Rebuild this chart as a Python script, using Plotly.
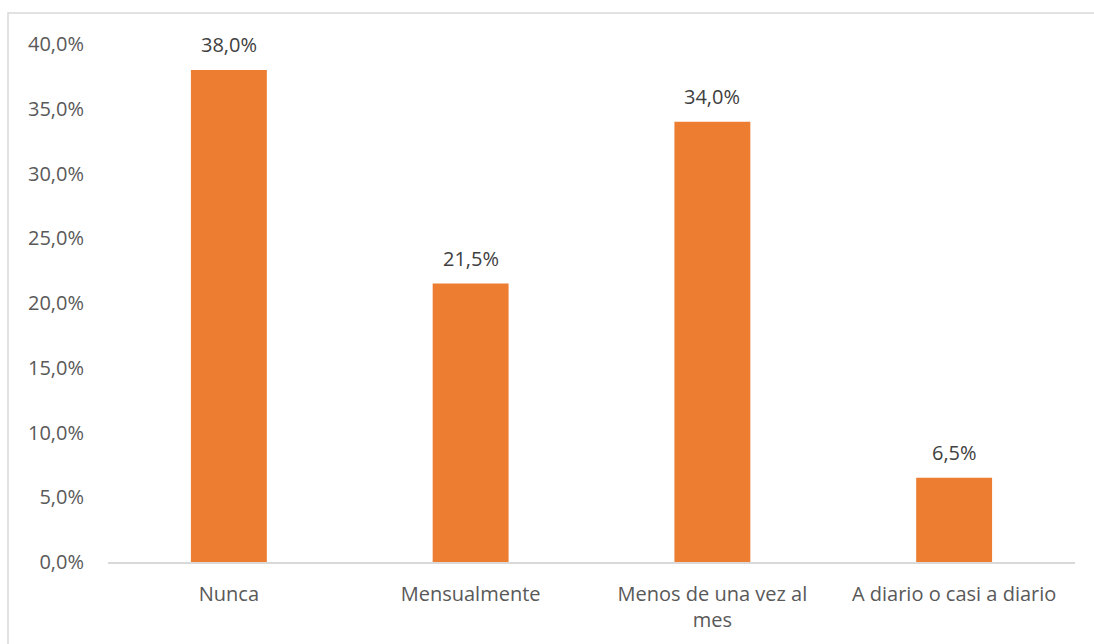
import plotly.graph_objects as go

categories = ["Nunca", "Mensualmente", "Menos de una vez al<br>mes", "A diario o casi a diario"]
values = [38.0, 21.5, 34.0, 6.5]
tick_vals = [0, 5, 10, 15, 20, 25, 30, 35, 40]

FONT = "Open Sans"
GRAY = "#595959"
FS = 20

fig = go.Figure()
fig.add_trace(go.Bar(
    x=categories, y=values,
    marker=dict(color="#ED7D31", line=dict(width=0)),
    hoverinfo="skip",
))

for c, v in zip(categories, values):
    fig.add_annotation(
        x=c, y=v, xref="x", yref="y",
        text=f"{v:.1f}%".replace(".", ","),
        showarrow=False, yanchor="bottom", yshift=10,
        font=dict(family=FONT, size=FS, color="#404040"),
    )

L, R, T, B = 108, 19, 44, 82
W, H = 1094, 644
pw, ph = W - L - R, H - T - B
x0 = (8 - L) / pw
x1 = (W + 5 - L) / pw
y1 = (H - B - 13) / ph
y0 = (H - B - (H + 5)) / ph
fig.add_shape(type="rect", xref="paper", yref="paper", x0=x0, x1=x1, y0=y0, y1=y1,
              line=dict(color="#D9D9D9", width=1.5), fillcolor="rgba(0,0,0,0)", layer="below")

fig.update_layout(
    width=W, height=H,
    margin=dict(l=L, r=R, t=T, b=B),
    paper_bgcolor="white", plot_bgcolor="white",
    bargap=0.686,
    showlegend=False,
    separators=",.",
    font=dict(family=FONT, size=FS, color=GRAY),
    xaxis=dict(
        showgrid=False, zeroline=False,
        showline=True, linecolor="#D9D9D9", linewidth=1.5,
        ticks="", tickfont=dict(family=FONT, size=FS, color=GRAY),
        ticklabelstandoff=13,
    ),
    yaxis=dict(
        range=[0, 40], tickvals=tick_vals,
        ticktext=[f"{v:.1f}%".replace(".", ",") for v in tick_vals],
        showgrid=False, zeroline=False, showline=False,
        ticks="", tickfont=dict(family=FONT, size=FS, color=GRAY),
        ticklabelstandoff=23,
    ),
)

fig.write_html("out.html")
